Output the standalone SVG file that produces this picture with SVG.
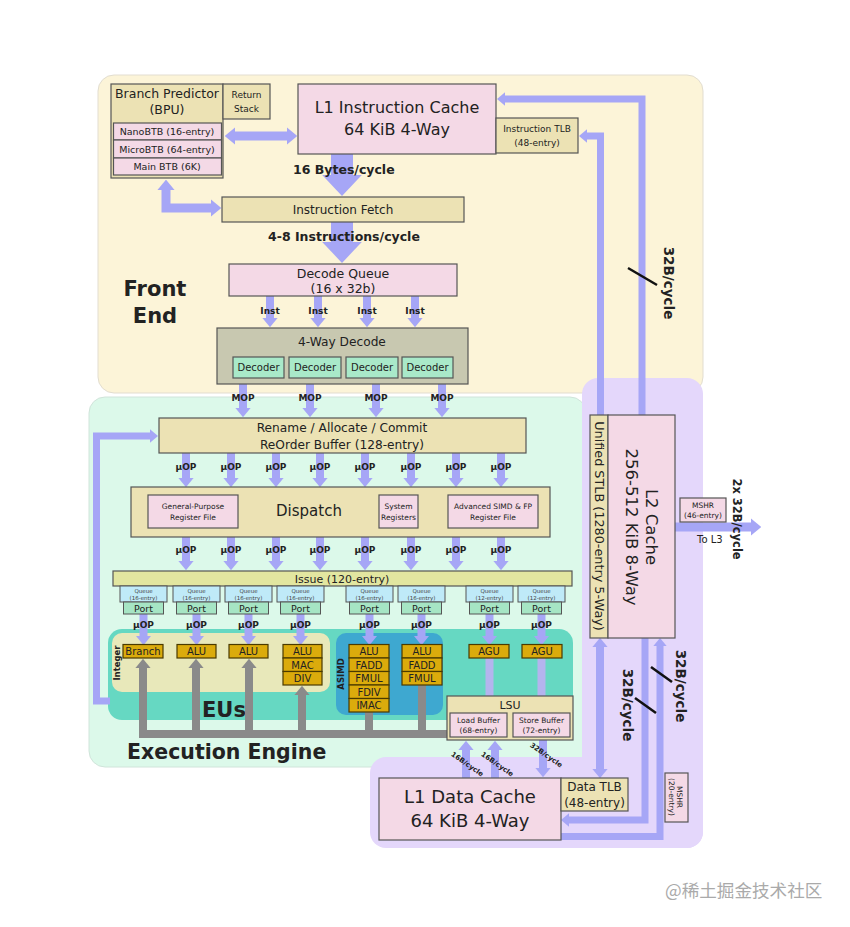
<svg xmlns="http://www.w3.org/2000/svg" width="850" height="927" viewBox="0 0 850 927">
<defs>
<style>
text{font-family:"DejaVu Sans","Liberation Sans",sans-serif;fill:#222}
.b{font-weight:bold}
.c{text-anchor:middle}
.tan{fill:#ece2b4;stroke:#555;stroke-width:1.2}
.pink{fill:#f4d9e6;stroke:#555;stroke-width:1.2}
.gold{fill:#dbab0c;stroke:#4a3a00;stroke-width:1.2}
.dec{fill:#a9e9c9;stroke:#555;stroke-width:1.2}
.q{fill:#bfeaf8;stroke:#555;stroke-width:1}
.port{fill:#a6e5c4;stroke:#555;stroke-width:1}
.ln{fill:none;stroke:#a6a6f6}
.gr{fill:none;stroke:#8a8a8a;stroke-width:8}
.sl{stroke:#111;stroke-width:2.5}
.g10{font-size:10px}
.u{font-size:9px;font-weight:bold}
.qt{font-size:5.5px;fill:#444}
</style>
<marker id="ah" viewBox="0 0 10 10" refX="0" refY="5" markerWidth="1.15" markerHeight="1.9" preserveAspectRatio="none" orient="auto-start-reverse" markerUnits="strokeWidth"><path d="M0,0L10,5L0,10z" fill="#a6a6f6"/></marker>
<marker id="ahb" viewBox="0 0 10 10" refX="0" refY="5" markerWidth="0.95" markerHeight="1.8" preserveAspectRatio="none" orient="auto-start-reverse" markerUnits="strokeWidth"><path d="M0,0L10,5L0,10z" fill="#a6a6f6"/></marker>
<marker id="ahg" viewBox="0 0 10 10" refX="0" refY="5" markerWidth="1.15" markerHeight="1.9" preserveAspectRatio="none" orient="auto-start-reverse" markerUnits="strokeWidth"><path d="M0,0L10,5L0,10z" fill="#8a8a8a"/></marker>
</defs>
<rect width="850" height="927" fill="#fff"/>

<g id="regions">
<rect id="front-end" x="98" y="75" width="605" height="318" rx="16" fill="#fcf4d8" stroke="#e2ddd0"/>
<rect id="execution-engine" x="89" y="397" width="497" height="370" rx="16" fill="#dcf9ea" stroke="#d0e4da"/>
<g id="memory" fill="#e4d7fb">
<rect x="582" y="378" width="121" height="470" rx="16"/>
<rect x="370" y="757" width="333" height="91" rx="16"/>
</g>
<rect id="eus" x="108" y="629" width="465" height="91" rx="14" fill="#66d8c2"/>
<rect id="integer" x="112" y="633" width="218" height="59" rx="10" fill="#e8e8ba"/>
<rect id="asimd" x="336" y="633" width="107" height="82" rx="10" fill="#3ea8d0"/>
<text class="b" x="155" y="296" font-size="21" text-anchor="middle">Front</text>
<text class="b" x="155" y="323" font-size="21" text-anchor="middle">End</text>
<text class="b" x="202" y="717" font-size="21">EUs</text>
<text class="b" x="127" y="759" font-size="20.5">Execution Engine</text>
<text class="b" transform="translate(120,663) rotate(-90)" font-size="8.5" text-anchor="middle">Integer</text>
<text class="b" transform="translate(344,674) rotate(-90)" font-size="8.5" text-anchor="middle">ASIMD</text>
</g>

<g id="connectors">
<path class="ln" stroke-width="9" d="M235,136H287" marker-start="url(#ah)" marker-end="url(#ah)"/>
<path class="ln" stroke-width="9" d="M166,190V208H211" marker-start="url(#ah)" marker-end="url(#ah)"/>
<path class="ln" stroke-width="22" d="M342,154V175" marker-end="url(#ahb)"/>
<path class="ln" stroke-width="22" d="M342,222V242" marker-end="url(#ahb)"/>
<path class="ln" stroke-width="8" d="M270,296V318" marker-end="url(#ah)"/>
<path class="ln" stroke-width="8" d="M318,296V318" marker-end="url(#ah)"/>
<path class="ln" stroke-width="8" d="M367,296V318" marker-end="url(#ah)"/>
<path class="ln" stroke-width="8" d="M415,296V318" marker-end="url(#ah)"/>
<path class="ln" stroke-width="8" d="M243,384V408" marker-end="url(#ah)"/>
<path class="ln" stroke-width="8" d="M310,384V408" marker-end="url(#ah)"/>
<path class="ln" stroke-width="8" d="M376,384V408" marker-end="url(#ah)"/>
<path class="ln" stroke-width="8" d="M442,384V408" marker-end="url(#ah)"/>
<path class="ln" stroke-width="7" d="M110,701H96.5V436H150" marker-end="url(#ah)"/>
<path class="ln" stroke-width="8" d="M186,453V478" marker-end="url(#ah)"/>
<path class="ln" stroke-width="8" d="M231,453V478" marker-end="url(#ah)"/>
<path class="ln" stroke-width="8" d="M276,453V478" marker-end="url(#ah)"/>
<path class="ln" stroke-width="8" d="M320,453V478" marker-end="url(#ah)"/>
<path class="ln" stroke-width="8" d="M365,453V478" marker-end="url(#ah)"/>
<path class="ln" stroke-width="8" d="M411,453V478" marker-end="url(#ah)"/>
<path class="ln" stroke-width="8" d="M456,453V478" marker-end="url(#ah)"/>
<path class="ln" stroke-width="8" d="M501,453V478" marker-end="url(#ah)"/>
<path class="ln" stroke-width="8" d="M186,537V561" marker-end="url(#ah)"/>
<path class="ln" stroke-width="8" d="M231,537V561" marker-end="url(#ah)"/>
<path class="ln" stroke-width="8" d="M276,537V561" marker-end="url(#ah)"/>
<path class="ln" stroke-width="8" d="M320,537V561" marker-end="url(#ah)"/>
<path class="ln" stroke-width="8" d="M365,537V561" marker-end="url(#ah)"/>
<path class="ln" stroke-width="8" d="M411,537V561" marker-end="url(#ah)"/>
<path class="ln" stroke-width="8" d="M456,537V561" marker-end="url(#ah)"/>
<path class="ln" stroke-width="8" d="M501,537V561" marker-end="url(#ah)"/>
<path class="ln" stroke-width="8" d="M143.5,614V636" marker-end="url(#ah)"/>
<path class="ln" stroke-width="8" d="M196.5,614V636" marker-end="url(#ah)"/>
<path class="ln" stroke-width="8" d="M248.5,614V636" marker-end="url(#ah)"/>
<path class="ln" stroke-width="8" d="M300.5,614V636" marker-end="url(#ah)"/>
<path class="ln" stroke-width="8" d="M369.5,614V636" marker-end="url(#ah)"/>
<path class="ln" stroke-width="8" d="M421.5,614V636" marker-end="url(#ah)"/>
<path class="ln" stroke-width="8" d="M489.5,614V636" marker-end="url(#ah)"/>
<path class="ln" stroke-width="8" d="M541.5,614V636" marker-end="url(#ah)"/>
<path fill="none" stroke="#b4b4ee" stroke-width="8" d="M489.5,650V696M541.5,650V696"/>
<path class="gr" d="M139,734H447"/>
<path class="gr" d="M143,734V668" marker-end="url(#ahg)"/>
<path class="gr" d="M196,734V668" marker-end="url(#ahg)"/>
<path class="gr" d="M249,734V668" marker-end="url(#ahg)"/>
<path class="gr" d="M302,734V695" marker-end="url(#ahg)"/>
<path class="gr" d="M369,734V712M422,734V685"/>
<path class="ln" stroke-width="8" d="M466,778V750" marker-end="url(#ah)"/>
<path class="ln" stroke-width="8" d="M495,778V750" marker-end="url(#ah)"/>
<path class="ln" stroke-width="8" d="M543,740V768" marker-end="url(#ah)"/>
<path class="ln" stroke-width="7" d="M642,415V99H505" marker-end="url(#ah)"/>
<path class="ln" stroke-width="7" d="M600.5,415V136H587" marker-end="url(#ah)"/>
<path class="ln" stroke-width="9" d="M675,527H751" marker-end="url(#ah)"/>
<path class="ln" stroke-width="8" d="M600,647V769" marker-start="url(#ah)" marker-end="url(#ah)"/>
<path class="ln" stroke-width="7" d="M645,638V820H569" marker-end="url(#ah)"/>
<path class="ln" stroke-width="7" d="M561,836.5H660V646" marker-end="url(#ah)"/>
<line class="sl" x1="628" y1="268" x2="657" y2="285"/>
<line class="sl" x1="651" y1="667" x2="672" y2="682"/>
<line class="sl" x1="635" y1="698" x2="656" y2="713"/>
</g>

<g id="bpu">
<rect class="tan" x="111" y="84" width="112" height="94" stroke-width="1.6"/>
<text class="c" x="167" y="98" font-size="12.5">Branch Predictor</text>
<text class="c" x="167" y="114" font-size="12.5">(BPU)</text>
<rect class="pink" x="113.5" y="123" width="108" height="17"/>
<rect class="pink" x="113.5" y="140" width="108" height="18"/>
<rect class="pink" x="113.5" y="158" width="108" height="17"/>
<text class="c" x="167" y="135" font-size="9.5">NanoBTB (16-entry)</text>
<text class="c" x="167" y="153" font-size="9.5">MicroBTB (64-entry)</text>
<text class="c" x="167" y="170" font-size="9.5">Main BTB (6K)</text>
</g>
<g id="return-stack">
<rect class="tan" x="223" y="84" width="47" height="35"/>
<text class="c" x="246.5" y="98" font-size="9">Return</text>
<text class="c" x="246.5" y="112" font-size="9">Stack</text>
</g>
<g id="l1i">
<rect class="pink" x="298" y="84" width="198" height="70"/>
<text class="c" x="397" y="113" font-size="16">L1 Instruction Cache</text>
<text class="c" x="397" y="135" font-size="16">64 KiB 4-Way</text>
</g>
<g id="itlb">
<rect class="tan" x="496" y="118" width="82" height="35"/>
<text class="c" x="537" y="132" font-size="9">Instruction TLB</text>
<text class="c" x="537" y="146" font-size="9">(48-entry)</text>
</g>
<g id="ifetch">
<rect class="tan" x="222" y="197" width="242" height="25"/>
<text class="c" x="343" y="214" font-size="12">Instruction Fetch</text>
</g>
<g id="decode-queue">
<rect class="pink" x="229" y="264" width="228" height="32"/>
<text class="c" x="343" y="278" font-size="12.5">Decode Queue</text>
<text class="c" x="343" y="293" font-size="12.5">(16 x 32b)</text>
</g>
<g id="decode">
<rect x="217" y="328" width="251" height="56" fill="#c8c8b0" stroke="#555" stroke-width="1.2"/>
<text class="c" x="342" y="346" font-size="12.2">4-Way Decode</text>
<rect class="dec" x="233" y="357" width="51" height="21"/>
<rect class="dec" x="289" y="357" width="52" height="21"/>
<rect class="dec" x="346" y="357" width="52" height="21"/>
<rect class="dec" x="402" y="357" width="51" height="21"/>
<text class="c g10" x="258.5" y="371">Decoder</text>
<text class="c g10" x="315" y="371">Decoder</text>
<text class="c g10" x="372" y="371">Decoder</text>
<text class="c g10" x="427.5" y="371">Decoder</text>
</g>
<g id="rename">
<rect class="tan" x="159" y="418" width="367" height="35"/>
<text class="c" x="342" y="432" font-size="12.2" fill="#333">Rename / Allocate / Commit</text>
<text class="c" x="342" y="449" font-size="12.2" fill="#333">ReOrder Buffer (128-entry)</text>
</g>
<g id="dispatch">
<rect class="tan" x="131" y="487" width="419" height="50"/>
<text class="c" x="309" y="516" font-size="15">Dispatch</text>
<rect class="pink" x="148" y="495" width="90" height="33"/>
<text class="c" x="193" y="509" font-size="7.5">General-Purpose</text>
<text class="c" x="193" y="520" font-size="7.5">Register File</text>
<rect class="pink" x="379" y="495" width="39" height="33"/>
<text class="c" x="398.5" y="509" font-size="7.5">System</text>
<text class="c" x="398.5" y="520" font-size="7.5">Registers</text>
<rect class="pink" x="448" y="495" width="90" height="33"/>
<text class="c" x="493" y="509" font-size="7.5">Advanced SIMD &amp; FP</text>
<text class="c" x="493" y="520" font-size="7.5">Register File</text>
</g>
<g id="issue">
<rect x="113" y="571" width="459" height="15" fill="#e2e6a0" stroke="#555" stroke-width="1.2"/>
<text class="c" x="342" y="583" font-size="11">Issue (120-entry)</text>
</g>
<g id="queues">
<rect class="q" x="120" y="586" width="47" height="16"/><rect class="q" x="173" y="586" width="47" height="16"/>
<rect class="q" x="225" y="586" width="47" height="16"/><rect class="q" x="277" y="586" width="47" height="16"/>
<rect class="q" x="346" y="586" width="47" height="16"/><rect class="q" x="398" y="586" width="47" height="16"/>
<rect class="q" x="466" y="586" width="47" height="16"/><rect class="q" x="518" y="586" width="47" height="16"/>
<text class="c qt" x="143.5" y="593">Queue</text><text class="c qt" x="143.5" y="600">(16-entry)</text>
<text class="c qt" x="196.5" y="593">Queue</text><text class="c qt" x="196.5" y="600">(16-entry)</text>
<text class="c qt" x="248.5" y="593">Queue</text><text class="c qt" x="248.5" y="600">(16-entry)</text>
<text class="c qt" x="300.5" y="593">Queue</text><text class="c qt" x="300.5" y="600">(16-entry)</text>
<text class="c qt" x="369.5" y="593">Queue</text><text class="c qt" x="369.5" y="600">(16-entry)</text>
<text class="c qt" x="421.5" y="593">Queue</text><text class="c qt" x="421.5" y="600">(16-entry)</text>
<text class="c qt" x="489.5" y="593">Queue</text><text class="c qt" x="489.5" y="600">(12-entry)</text>
<text class="c qt" x="541.5" y="593">Queue</text><text class="c qt" x="541.5" y="600">(12-entry)</text>
</g>
<g id="ports">
<rect class="port" x="123.5" y="602" width="40" height="12"/><rect class="port" x="176.5" y="602" width="40" height="12"/>
<rect class="port" x="228.5" y="602" width="40" height="12"/><rect class="port" x="280.5" y="602" width="40" height="12"/>
<rect class="port" x="349.5" y="602" width="40" height="12"/><rect class="port" x="401.5" y="602" width="40" height="12"/>
<rect class="port" x="469.5" y="602" width="40" height="12"/><rect class="port" x="521.5" y="602" width="40" height="12"/>
<g font-size="9.5">
<text class="c" x="143.5" y="611.5">Port</text><text class="c" x="196.5" y="611.5">Port</text>
<text class="c" x="248.5" y="611.5">Port</text><text class="c" x="300.5" y="611.5">Port</text>
<text class="c" x="369.5" y="611.5">Port</text><text class="c" x="421.5" y="611.5">Port</text>
<text class="c" x="489.5" y="611.5">Port</text><text class="c" x="541.5" y="611.5">Port</text>
</g>
</g>
<g id="units" font-size="10">
<rect class="gold" x="123" y="644.5" width="40" height="13.5"/><text class="c" x="143" y="655">Branch</text>
<rect class="gold" x="177" y="644.5" width="39" height="13.5"/><text class="c" x="196.5" y="655">ALU</text>
<rect class="gold" x="229" y="644.5" width="39" height="13.5"/><text class="c" x="248.5" y="655">ALU</text>
<rect class="gold" x="283" y="644.5" width="39" height="13.5"/><text class="c" x="302.5" y="655">ALU</text>
<rect class="gold" x="283" y="658" width="39" height="13.5"/><text class="c" x="302.5" y="668.5">MAC</text>
<rect class="gold" x="283" y="671.5" width="39" height="13.5"/><text class="c" x="302.5" y="682">DIV</text>
<rect class="gold" x="349" y="644.5" width="40" height="13.5"/><text class="c" x="369" y="655">ALU</text>
<rect class="gold" x="349" y="658" width="40" height="13.5"/><text class="c" x="369" y="668.5">FADD</text>
<rect class="gold" x="349" y="671.5" width="40" height="13.5"/><text class="c" x="369" y="682">FMUL</text>
<rect class="gold" x="349" y="685" width="40" height="13.5"/><text class="c" x="369" y="695.5">FDIV</text>
<rect class="gold" x="349" y="698.5" width="40" height="13.5"/><text class="c" x="369" y="709">IMAC</text>
<rect class="gold" x="402" y="644.5" width="40" height="13.5"/><text class="c" x="422" y="655">ALU</text>
<rect class="gold" x="402" y="658" width="40" height="13.5"/><text class="c" x="422" y="668.5">FADD</text>
<rect class="gold" x="402" y="671.5" width="40" height="13.5"/><text class="c" x="422" y="682">FMUL</text>
<rect class="gold" x="469" y="644.5" width="40" height="13.5"/><text class="c" x="489" y="655">AGU</text>
<rect class="gold" x="522" y="644.5" width="40" height="13.5"/><text class="c" x="542" y="655">AGU</text>
</g>
<g id="lsu">
<rect class="tan" x="447" y="696" width="126" height="44"/>
<text class="c" x="510" y="709" font-size="11">LSU</text>
<rect class="pink" x="450" y="713" width="57" height="24"/>
<text class="c" x="478.5" y="723" font-size="7.5">Load Buffer</text>
<text class="c" x="478.5" y="733" font-size="7.5">(68-entry)</text>
<rect class="pink" x="513" y="713" width="57" height="24"/>
<text class="c" x="541.5" y="723" font-size="7.5">Store Buffer</text>
<text class="c" x="541.5" y="733" font-size="7.5">(72-entry)</text>
</g>
<g id="l1d">
<rect class="pink" x="379" y="778" width="182" height="62"/>
<text class="c" x="470" y="803" font-size="18">L1 Data Cache</text>
<text class="c" x="470" y="827" font-size="18">64 KiB 4-Way</text>
</g>
<g id="dtlb">
<rect class="tan" x="561" y="778" width="67" height="33"/>
<text class="c" x="594.5" y="791" font-size="12">Data TLB</text>
<text class="c" x="594.5" y="807" font-size="12">(48-entry)</text>
</g>
<g id="mshr-l1">
<rect class="pink" x="665" y="773" width="23" height="49"/>
<text class="c" transform="translate(677,797) rotate(90)" font-size="7.5">MSHR</text>
<text class="c" transform="translate(668.5,797) rotate(90)" font-size="7.5">(20-entry)</text>
</g>
<g id="stlb">
<rect class="tan" x="590" y="415" width="18" height="223"/>
<text class="c" transform="translate(594.5,526) rotate(90)" font-size="12.8">Unified STLB (1280-entry 5-Way)</text>
</g>
<g id="l2">
<rect class="pink" x="608" y="415" width="67" height="223"/>
<text class="c" transform="translate(646,527) rotate(90)" font-size="16.5">L2 Cache</text>
<text class="c" transform="translate(626,527) rotate(90)" font-size="16.5">256-512 KiB 8-Way</text>
</g>
<g id="mshr-l2">
<rect class="pink" x="680" y="498" width="46" height="24"/>
<text class="c" x="703" y="508" font-size="7.5">MSHR</text>
<text class="c" x="703" y="518" font-size="7.5">(46-entry)</text>
</g>

<g id="labels">
<text class="b" x="293" y="174" font-size="12.5">16 Bytes/cycle</text>
<text class="b" x="268" y="241" font-size="12.5">4-8 Instructions/cycle</text>
<g class="u">
<text class="c" x="270" y="314">Inst</text><text class="c" x="318" y="314">Inst</text><text class="c" x="367" y="314">Inst</text><text class="c" x="415" y="314">Inst</text>
<text class="c" x="243" y="401">MOP</text><text class="c" x="310" y="401">MOP</text><text class="c" x="376" y="401">MOP</text><text class="c" x="442" y="401">MOP</text>
<text class="c" x="186" y="470">µOP</text><text class="c" x="231" y="470">µOP</text><text class="c" x="276" y="470">µOP</text><text class="c" x="320" y="470">µOP</text>
<text class="c" x="365" y="470">µOP</text><text class="c" x="411" y="470">µOP</text><text class="c" x="456" y="470">µOP</text><text class="c" x="501" y="470">µOP</text>
<text class="c" x="186" y="553">µOP</text><text class="c" x="231" y="553">µOP</text><text class="c" x="276" y="553">µOP</text><text class="c" x="320" y="553">µOP</text>
<text class="c" x="365" y="553">µOP</text><text class="c" x="411" y="553">µOP</text><text class="c" x="456" y="553">µOP</text><text class="c" x="501" y="553">µOP</text>
<text class="c" x="143.5" y="628">µOP</text><text class="c" x="196.5" y="628">µOP</text><text class="c" x="248.5" y="628">µOP</text><text class="c" x="300.5" y="628">µOP</text>
<text class="c" x="369.5" y="628">µOP</text><text class="c" x="421.5" y="628">µOP</text><text class="c" x="489.5" y="628">µOP</text><text class="c" x="541.5" y="628">µOP</text>
</g>
<text class="b c" transform="translate(466,766) rotate(35)" font-size="7">16B/cycle</text>
<text class="b c" transform="translate(496,766) rotate(35)" font-size="7">16B/cycle</text>
<text class="b c" transform="translate(545,757) rotate(35)" font-size="7">32B/cycle</text>
<text class="b c" transform="translate(664,283) rotate(90)" font-size="13.5">32B/cycle</text>
<text class="b c" transform="translate(676,686) rotate(90)" font-size="13.5">32B/cycle</text>
<text class="b c" transform="translate(623,705) rotate(90)" font-size="13.5">32B/cycle</text>
<text class="b c" transform="translate(733,519) rotate(90)" font-size="11.5">2x 32B/cycle</text>
<text x="697" y="543" font-size="10">To L3</text>
</g>
<text x="665" y="897" font-size="17.6" style="font-family:'Noto Sans CJK SC',sans-serif;fill:#aaa">@稀土掘金技术社区</text>
</svg>
